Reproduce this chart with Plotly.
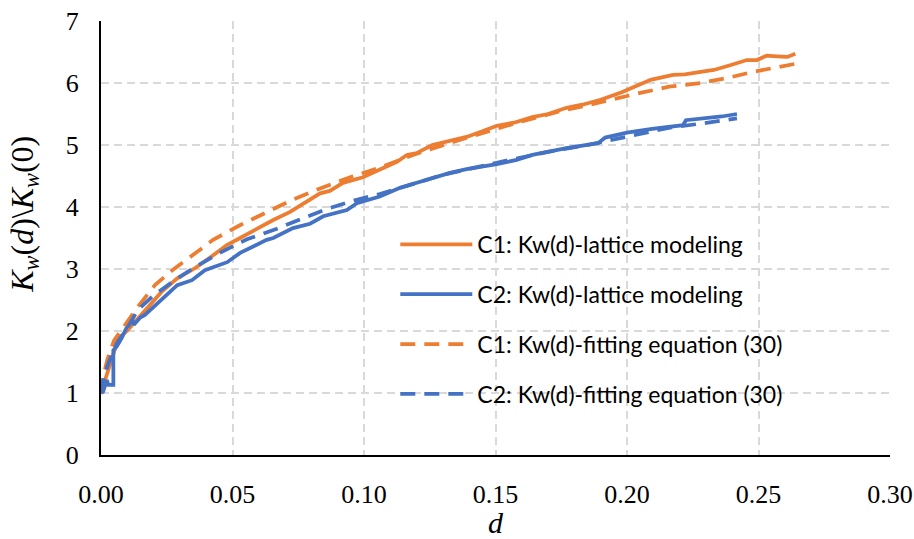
import plotly.graph_objects as go

# ---- data ----
c1_lat_d = [0, 0.0015, 0.0034, 0.0053, 0.0065, 0.0103, 0.016, 0.023, 0.029, 0.036, 0.042, 0.048,
            0.0529, 0.0605, 0.0655, 0.0719, 0.0783, 0.0833, 0.087, 0.092, 0.0996, 0.107, 0.1125,
            0.1163, 0.12, 0.126, 0.132, 0.139, 0.145, 0.1505, 0.157, 0.164, 0.170, 0.177, 0.183,
            0.19, 0.198, 0.204, 0.209, 0.2175, 0.222, 0.228, 0.233, 0.2395, 0.2456, 0.2494, 0.253,
            0.257, 0.261, 0.264]
c1_lat_k = [1.0, 1.2, 1.48, 1.72, 1.87, 2.02, 2.3, 2.63, 2.85, 3.02, 3.2, 3.39,
            3.5, 3.68, 3.79, 3.92, 4.08, 4.22, 4.26, 4.39, 4.48, 4.63, 4.73,
            4.84, 4.87, 5.0, 5.06, 5.13, 5.22, 5.31, 5.36, 5.45, 5.5, 5.6, 5.65,
            5.73, 5.85, 5.96, 6.05, 6.13, 6.14, 6.18, 6.21, 6.29, 6.37, 6.37, 6.44,
            6.43, 6.42, 6.47]

c2_lat_d = [0, 0.0008, 0.0022, 0.0028, 0.0047, 0.0047, 0.006, 0.0079, 0.010, 0.0118, 0.0125,
            0.015, 0.0167, 0.023, 0.029, 0.0346, 0.0395, 0.048, 0.0529, 0.063, 0.0655, 0.073,
            0.0795, 0.0845, 0.0935, 0.0973, 0.106, 0.1137, 0.12, 0.126, 0.1327, 0.139, 0.1505,
            0.158, 0.164, 0.177, 0.189, 0.1917, 0.2, 0.2095, 0.2213, 0.2224, 0.23, 0.236, 0.2418]
c2_lat_k = [1.0, 1.02, 1.21, 1.13, 1.13, 1.69, 1.75, 1.89, 2.08, 2.2, 2.1,
            2.22, 2.26, 2.5, 2.74, 2.82, 2.98, 3.11, 3.26, 3.47, 3.5, 3.66,
            3.73, 3.85, 3.95, 4.06, 4.17, 4.31, 4.39, 4.47, 4.55, 4.61, 4.69,
            4.76, 4.84, 4.95, 5.03, 5.12, 5.2, 5.26, 5.32, 5.4, 5.43, 5.46, 5.5]

c1_fit_d = [0, 0.001, 0.0025, 0.005, 0.0075, 0.01, 0.014, 0.0205, 0.028, 0.0357, 0.0426, 0.053,
            0.063, 0.073, 0.0833, 0.0947, 0.105, 0.12, 0.14, 0.16, 0.175, 0.186, 0.205, 0.216,
            0.228, 0.238, 0.248, 0.261, 0.264]
c1_fit_k = [1.0, 1.3, 1.55, 1.85, 2.0, 2.15, 2.39, 2.74, 3.01, 3.25, 3.47, 3.71,
            3.92, 4.12, 4.3, 4.48, 4.62, 4.86, 5.13, 5.38, 5.55, 5.65, 5.84, 5.94,
            6.0, 6.08, 6.18, 6.29, 6.31]

c2_fit_d = [0, 0.001, 0.003, 0.006, 0.0103, 0.014, 0.0194, 0.027, 0.0357, 0.0452, 0.0555, 0.0669,
            0.0757, 0.086, 0.0958, 0.106, 0.1163, 0.13, 0.15, 0.17, 0.185, 0.1985, 0.2163, 0.229,
            0.2418]
c2_fit_k = [1.0, 1.25, 1.5, 1.8, 2.07, 2.34, 2.55, 2.79, 3.03, 3.26, 3.48, 3.65,
            3.8, 3.97, 4.1, 4.21, 4.34, 4.52, 4.71, 4.89, 5.0, 5.12, 5.28, 5.35,
            5.43]

x_ticks = [0, 0.05, 0.10, 0.15, 0.20, 0.25, 0.30]
x_tick_labels = ["0.00", "0.05", "0.10", "0.15", "0.20", "0.25", "0.30"]
y_ticks = [0, 1, 2, 3, 4, 5, 6, 7]

names = ["C1: Kw(d)-lattice modeling", "C2: Kw(d)-lattice modeling",
         "C1: Kw(d)-fitting equation (30)", "C2: Kw(d)-fitting equation (30)"]
y_title = "<i>K</i><sub><i>w</i></sub>(<i>d</i>)\\<i>K</i><sub><i>w</i></sub>(0)"

ORANGE = "#ED7D31"
BLUE = "#4472C4"
DASH = "15px,9px"

fig = go.Figure()
series = [
    (c1_lat_d, c1_lat_k, ORANGE, "solid"),
    (c2_lat_d, c2_lat_k, BLUE, "solid"),
    (c1_fit_d, c1_fit_k, ORANGE, DASH),
    (c2_fit_d, c2_fit_k, BLUE, DASH),
]
for i, (xs, ys, col, dash) in enumerate(series):
    fig.add_trace(go.Scatter(
        x=xs, y=ys, mode="lines", name=names[i], legendgroup=f"g{i}",
        line=dict(color=col, width=3.75, dash=dash, shape="linear"),
    ))

fig.update_layout(
    width=914, height=539,
    margin=dict(l=101, r=24, t=21, b=84),
    paper_bgcolor="white", plot_bgcolor="white",
    showlegend=True,
    legend=dict(
        x=0.373, y=0.535, xanchor="left", yanchor="top",
        font=dict(family="Lato", size=23, color="#000000"),
        bgcolor="rgba(0,0,0,0)",
        tracegroupgap=17, itemwidth=72, traceorder="grouped",
    ),
    xaxis=dict(
        range=[0, 0.30], tickvals=x_ticks, ticktext=x_tick_labels, automargin=False,
        showgrid=True, gridcolor="#d9d9d9", gridwidth=2, griddash="8px,5px",
        showline=True, linecolor="black", linewidth=2, zeroline=False,
        ticks="outside", ticklen=15, tickcolor="rgba(0,0,0,0)",
        tickfont=dict(family="Liberation Serif", size=26, color="black"),
        title=dict(text="<i>d</i>", font=dict(family="Liberation Serif", size=30, color="black"),
                   standoff=12),
    ),
    yaxis=dict(
        range=[0, 7], tickvals=y_ticks, automargin=False,
        showgrid=True, gridcolor="#d9d9d9", gridwidth=2, griddash="8px,5px",
        showline=True, linecolor="black", linewidth=2, zeroline=False,
        ticks="outside", ticklen=15, tickcolor="rgba(0,0,0,0)",
        tickfont=dict(family="Liberation Serif", size=26, color="black"),
    ),
    annotations=[dict(
        text=y_title, textangle=-90, xref="paper", yref="paper",
        x=-0.098, y=0.555, xanchor="center", yanchor="middle", showarrow=False,
        font=dict(family="Liberation Serif", size=32, color="black"),
    )],
)

fig.write_html("out.html")
